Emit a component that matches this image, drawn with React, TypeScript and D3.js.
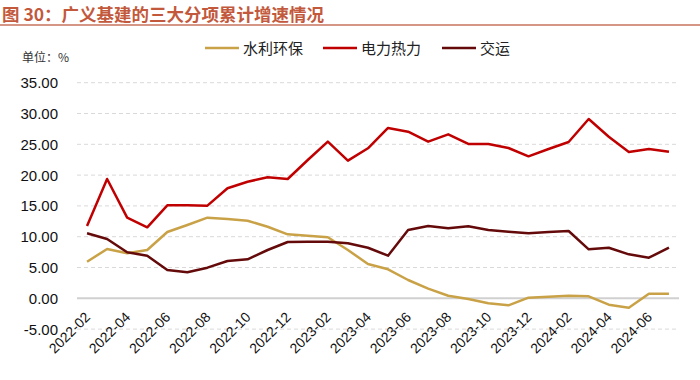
import React from "react";
import * as d3 from "d3";

const months: string[] = (() => {
  const out: string[] = [];
  const ys = [2022, 2023, 2024];
  for (const y of ys) {
    for (let m = 1; m <= 12; m++) {
      if (y === 2022 && m < 2) continue;
      if (y === 2024 && m > 7) continue;
      out.push(`${y}-${String(m).padStart(2, "0")}`);
    }
  }
  return out;
})();

const water: number[] = [5.94, 8.0, 7.3, 7.84, 10.76, 11.9, 13.09, 12.87, 12.6, 11.62, 10.39, 10.16, 9.9, 7.84, 5.57, 4.71, 2.97, 1.56, 0.42, -0.11, -0.81, -1.14, 0.1, 0.26, 0.42, 0.32, -1.04, -1.53, 0.75, 0.75];
const power: number[] = [11.74, 19.37, 13.09, 11.52, 15.09, 15.09, 15.04, 17.86, 18.93, 19.64, 19.37, 22.45, 25.43, 22.34, 24.35, 27.65, 27.05, 25.43, 26.62, 25.05, 25.05, 24.4, 23.05, 24.24, 25.37, 29.1, 26.23, 23.75, 24.24, 23.8];
const transport: number[] = [10.55, 9.63, 7.47, 6.92, 4.59, 4.22, 4.97, 6.06, 6.33, 7.84, 9.14, 9.19, 9.19, 8.93, 8.21, 6.92, 11.09, 11.74, 11.36, 11.69, 11.09, 10.81, 10.55, 10.76, 10.93, 7.95, 8.21, 7.14, 6.59, 8.21];
const yTicks: number[] = [-5, 0, 5, 10, 15, 20, 25, 30, 35];

const seriesNames = ["水利环保", "电力热力", "交运"];
const seriesColors = ["#C9A247", "#C00000", "#650A0A"];

export default function App() {
  const W = 700, H = 380;
  const left = 77, right = 679, top = 82.7, bottom = 329.1;
  const x = d3.scaleBand<string>().domain(months).range([left, right]);
  const y = d3.scaleLinear().domain([-5, 35]).range([bottom, top]);
  const cx = (m: string) => (x(m) as number) + x.bandwidth() / 2;
  const line = d3.line<number>().x((_, i) => cx(months[i])).y((v) => y(v));
  const data = [water, power, transport];
  const font = "Arial, 'Liberation Sans', 'Noto Sans CJK SC', sans-serif";
  const cjk = "'Noto Sans CJK SC', sans-serif";
  const legendX = [205, 323, 442];
  const labelMonths = months.filter((_, i) => i % 2 === 0);

  return (
    <svg width={W} height={H} style={{ position: "absolute", left: 0, top: 0, background: "#fff" }}>
      <text x={2} y={20.5} fontFamily={cjk} fontWeight="bold" fontSize={17.5} fill="#C3593C">
        图 30：广义基建的三大分项累计增速情况
      </text>
      <line x1={0} x2={700} y1={25} y2={25} stroke="#C8735C" strokeWidth={1.5} />
      <text x={22} y={62} fontFamily={cjk} fontSize={12} fill="#333">单位：%</text>
      {seriesNames.map((n, i) => (
        <g key={n}>
          <line x1={legendX[i]} x2={legendX[i] + 34} y1={48} y2={48} stroke={seriesColors[i]} strokeWidth={2.5} />
          <text x={legendX[i] + 38} y={53.5} fontFamily={cjk} fontSize={15} fill="#222">{n}</text>
        </g>
      ))}
      {yTicks.map((t) => (
        <g key={t}>
          {t !== 0 && (
            <line x1={left} x2={right} y1={y(t)} y2={y(t)} stroke="#D9D9D9" strokeWidth={1} strokeDasharray="4,3" />
          )}
          <text x={58} y={y(t) + 5.5} textAnchor="end" fontFamily={font} fontSize={15} fill="#111">
            {t.toFixed(2)}
          </text>
        </g>
      ))}
      <line x1={left} x2={right} y1={y(0)} y2={y(0)} stroke="#D0D0D0" strokeWidth={2} />
      {labelMonths.map((m) => (
        <text
          key={m}
          transform={`translate(${cx(m) + 4},${318}) rotate(-45)`}
          textAnchor="end"
          fontFamily={font}
          fontSize={14}
          fill="#111"
        >
          {m}
        </text>
      ))}
      {data.map((d, i) => (
        <path key={i} d={line(d) as string} fill="none" stroke={seriesColors[i]} strokeWidth={2.5} strokeLinejoin="round" />
      ))}
    </svg>
  );
}
